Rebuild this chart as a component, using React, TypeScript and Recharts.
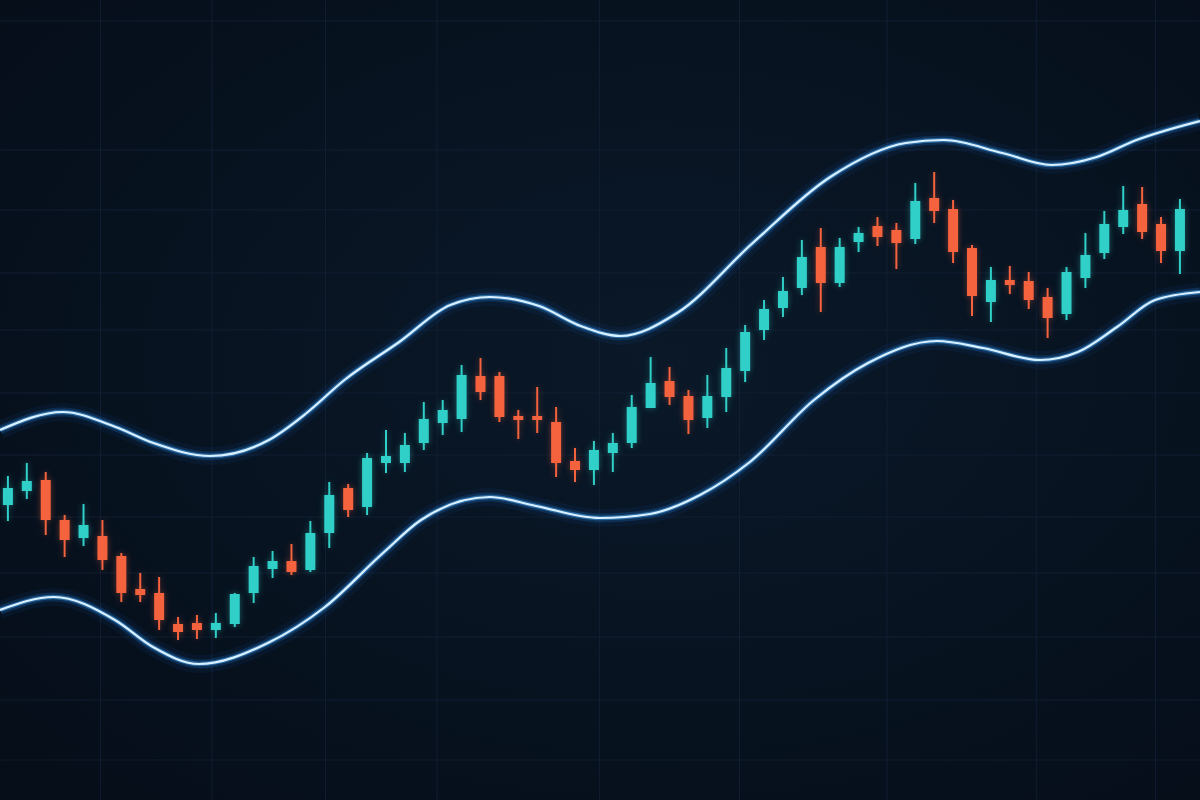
import React from "react";
import { ComposedChart, Bar, Line, XAxis, YAxis, CartesianGrid } from "recharts";

// candle values, index 0..62 (price units, higher = up)
const opens = [
  295, 309, 320, 280, 262, 264, 244, 211, 207, 176, 177, 170, 176, 207, 231, 239,
  230, 267, 312, 293, 337, 337, 357, 377, 381, 424, 424, 384, 384, 378, 339, 330,
  347, 357, 392, 419, 404, 382, 403, 429, 470, 492, 512, 553, 517, 558, 574, 570,
  561, 602, 591, 552, 498, 520, 519, 503, 486, 522, 547, 573, 596, 576, 549,
];
const highs = [
  324, 337, 328, 285, 296, 280, 247, 227, 223, 183, 185, 187, 207, 243, 249, 256,
  279, 318, 316, 347, 370, 367, 398, 400, 435, 442, 428, 390, 413, 393, 352, 359,
  367, 405, 443, 433, 410, 425, 452, 475, 500, 523, 560, 572, 562, 573, 583, 577,
  617, 628, 600, 555, 533, 534, 528, 512, 533, 567, 589, 614, 613, 583, 601,
];
const lows = [
  279, 301, 265, 243, 254, 230, 198, 198, 170, 160, 161, 162, 173, 197, 222, 225,
  228, 252, 283, 285, 327, 328, 350, 365, 368, 400, 378, 361, 367, 323, 318, 315,
  328, 352, 392, 395, 366, 372, 388, 418, 460, 483, 505, 488, 513, 548, 554, 531,
  556, 577, 537, 484, 478, 506, 491, 462, 480, 512, 541, 566, 561, 537, 526,
];
const closes = [
  312, 319, 280, 260, 275, 240, 207, 205, 180, 168, 170, 177, 206, 234, 239, 228,
  267, 305, 290, 342, 344, 355, 381, 390, 425, 408, 383, 380, 380, 337, 330, 350,
  357, 393, 417, 403, 380, 404, 432, 468, 491, 509, 543, 517, 553, 567, 563, 557,
  599, 589, 548, 504, 520, 515, 500, 482, 528, 545, 576, 590, 568, 549, 591,
];

// envelope bands, sampled along the same index axis
const upperT = [-0.42, 2.9, 5.7, 7.7, 10.7, 13.8, 15.8, 17.8, 20.7, 23.4, 25.5, 28.1, 30.3, 32.4, 35.4, 39.4, 43.5, 47.5, 49.5, 52.6, 55.2, 57.6, 59.7, 63.06];
const upperV = [370, 388, 373, 357, 344, 360, 387, 420, 458, 495, 503, 494, 474, 464, 487, 557, 623, 657, 660, 647, 635, 643, 660, 679];
const lowerT = [-0.42, 2.43, 5.66, 7.67, 10.1, 13.75, 16.77, 19.84, 21.85, 25.5, 27.93, 31.32, 33.96, 36.61, 39.25, 42.64, 45.5, 49.15, 51.58, 54.6, 56.6, 58.67, 60.68, 63.06];
const lowerV = [190, 203, 180, 153, 136, 157, 193, 247, 280, 303, 294, 282, 286, 305, 338, 400, 437, 459, 452, 440, 448, 473, 500, 508];

// faint grid
const gridX = [4.9, 10.8, 16.8, 22.7, 31.3, 38.7, 46.5, 54.4, 60.7];
const gridY = [779, 650, 590, 527, 470, 407, 345, 283, 227, 163, 100, 40];

const UP = "#30cfc8";
const DOWN = "#f4623e";

const candles = opens.map((o, i) => ({
  t: i,
  open: o,
  high: highs[i],
  low: lows[i],
  close: closes[i],
}));
const upperRows = upperT.map((t, i) => ({ t, v: upperV[i] }));
const lowerRows = lowerT.map((t, i) => ({ t, v: lowerV[i] }));

const BODY_W = 10;

const Candle = (props: any) => {
  const { x, y, width, height, payload } = props;
  if (!payload || x == null) return null;
  const { open, close, high, low } = payload;
  const top = Math.min(y, y + height);
  const h = Math.abs(height);
  const k = h / (high - low || 1);
  const bodyTop = top + (high - Math.max(open, close)) * k;
  const bodyH = Math.max(2.5, Math.abs(open - close) * k);
  const color = close >= open ? UP : DOWN;
  const cx = x + (width || 0) / 2;
  return (
    <g style={{ filter: `drop-shadow(0 0 3px ${color}66)` }}>
      <line x1={cx} x2={cx} y1={top} y2={top + h} stroke={color} strokeWidth={2} />
      <rect x={cx - BODY_W / 2} y={bodyTop} width={BODY_W} height={bodyH} fill={color} />
    </g>
  );
};

export default function App() {
  const bandLayers = [
    { w: 18, c: "#1666c9", o: 0.08 },
    { w: 9, c: "#1f86f0", o: 0.2 },
    { w: 4.5, c: "#4fb2ff", o: 0.45 },
    { w: 2.2, c: "#d8f0ff", o: 1 },
  ];
  return (
    <div
      style={{
        position: "absolute",
        left: 0,
        top: 0,
        width: 1200,
        height: 800,
        overflow: "hidden",
        background: "radial-gradient(ellipse at 55% 45%, #0a1828 0%, #07121f 60%, #050d18 100%)",
      }}
    >
      <ComposedChart width={1200} height={800} data={candles} margin={{ top: 0, right: 0, bottom: 0, left: 0 }}>
        <CartesianGrid
          stroke="#15243a"
          strokeOpacity={0.7}
          verticalValues={gridX}
          horizontalValues={gridY}
        />
        <XAxis type="number" dataKey="t" domain={[-0.42, 63.06]} allowDataOverflow hide />
        <YAxis type="number" domain={[0, 800]} allowDataOverflow hide />
        {bandLayers.map((l, i) => (
          <Line
            key={"u" + i}
            data={upperRows}
            dataKey="v"
            type="monotone"
            stroke={l.c}
            strokeOpacity={l.o}
            strokeWidth={l.w}
            dot={false}
            activeDot={false}
            isAnimationActive={false}
          />
        ))}
        {bandLayers.map((l, i) => (
          <Line
            key={"l" + i}
            data={lowerRows}
            dataKey="v"
            type="monotone"
            stroke={l.c}
            strokeOpacity={l.o}
            strokeWidth={l.w}
            dot={false}
            activeDot={false}
            isAnimationActive={false}
          />
        ))}
        <Bar
          dataKey={(d: any) => [d.low, d.high]}
          barSize={10}
          shape={<Candle />}
          isAnimationActive={false}
        />
      </ComposedChart>
    </div>
  );
}
